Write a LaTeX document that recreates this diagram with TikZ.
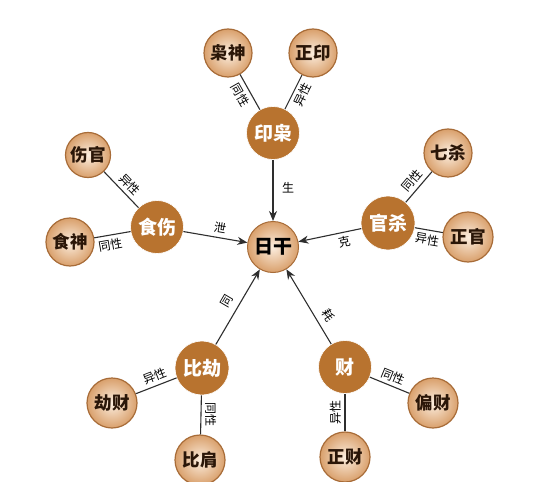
\documentclass[tikz,border=0pt]{standalone}
\usepackage{fontspec}
\newfontfamily\cjk{Noto Sans CJK SC}
\usetikzlibrary{arrows.meta}
\definecolor{inner}{HTML}{B8732F}
\definecolor{rim}{HTML}{A86C38}
\definecolor{pale}{HTML}{FCEEDF}
\definecolor{tan}{HTML}{D9A06C}
\definecolor{ink}{HTML}{2A1608}
\definecolor{wire}{HTML}{2E2E2E}
\tikzset{
  core/.style={circle,fill=inner,draw=white,line width=0.6pt,minimum size=#1,inner sep=0pt,
    text=white,font=\cjk\bfseries\fontsize{19}{19}\selectfont},
  leaf/.style={circle,inner color=pale,outer color=tan,draw=rim,line width=1.2pt,minimum size=#1,inner sep=0pt,
    text=ink,font=\cjk\bfseries\fontsize{17.5}{17.5}\selectfont},
  hub/.style={circle,inner color=pale,outer color=tan,draw=rim,line width=1pt,minimum size=51pt,inner sep=0pt,
    text=black,font=\cjk\bfseries\fontsize{19}{19}\selectfont},
  tie/.style={draw=wire,line width=1.1pt},
  flow/.style={draw=wire,line width=1.1pt,-{Stealth[length=10pt,width=8pt]}},
  lab/.style={font=\cjk\fontsize{12}{12}\selectfont,text=black,inner sep=3.5pt}
}
\begin{document}
\begin{tikzpicture}[x=1pt,y=-1pt]
\useasboundingbox[fill=white] (0,0) rectangle (537,481);
\begin{scope}
\clip (0,0) rectangle (537,481);
% hub
\node[hub] (R) at (273,247) {日干};
% inner nodes
\node[core=53pt] (YX) at (273,133) {印枭};
\node[core=53pt] (SS) at (157,227) {食伤};
\node[core=54pt] (GS) at (388,223) {官杀};
\node[core=54pt] (BJ) at (202,368) {比劫};
\node[core=53pt] (C)  at (345,367) {财};
% leaves
\node[leaf=48pt] (XS)  at (228,53)  {枭神};
\node[leaf=48pt] (ZY)  at (313,53)  {正印};
\node[leaf=45pt] (SG)  at (88,155)  {伤官};
\node[leaf=48pt] (SHS) at (70,242)  {食神};
\node[leaf=48pt] (QS)  at (448,153) {七杀};
\node[leaf=50pt] (ZG)  at (468,237) {正官};
\node[leaf=50pt] (JC)  at (112,403) {劫财};
\node[leaf=50pt] (BI)  at (200,460) {比肩};
\node[leaf=50pt] (PC)  at (433,403) {偏财};
\node[leaf=50pt] (ZC)  at (345,457) {正财};
% ties
\path[tie] (XS) -- node[lab,sloped,below,pos=0.45] {同性} (YX);
\path[tie] (YX) -- node[lab,sloped,below,pos=0.55] {异性} (ZY);
\path[tie] (SG) -- node[lab,sloped,above,pos=0.55] {异性} (SS);
\path[tie] (SHS) -- node[lab,sloped,below,pos=0.4] {同性} (SS);
\path[tie] (GS) -- node[lab,sloped,above,pos=0.5] {同性} (QS);
\path[tie] (GS) -- node[lab,sloped,below,pos=0.5] {异性} (ZG);
\path[tie] (JC) -- node[lab,sloped,above,pos=0.55] {异性} (BJ);
\path[tie] (BJ) -- node[lab,rotate=-90,anchor=south,pos=0.5] {同性} (BI);
\path[tie] (C) -- node[lab,sloped,above,pos=0.5] {同性} (PC);
\path[tie] (C) -- node[lab,rotate=90,anchor=south,pos=0.5] {异性} (ZC);
% flows
\path[flow] (YX) -- node[lab,right=5pt,pos=0.45] {生} (R);
\path[flow] (SS) -- node[lab,sloped,above,pos=0.55] {泄} (R);
\path[flow] (GS) -- node[lab,sloped,below,pos=0.3] {克} (R);
\path[flow] (BJ) -- node[lab,sloped,above=3pt,pos=0.5] {同} (R);
\path[flow] (C) -- node[lab,sloped,above=3pt,pos=0.3] {耗} (R);
\end{scope}
\end{tikzpicture}
\end{document}
